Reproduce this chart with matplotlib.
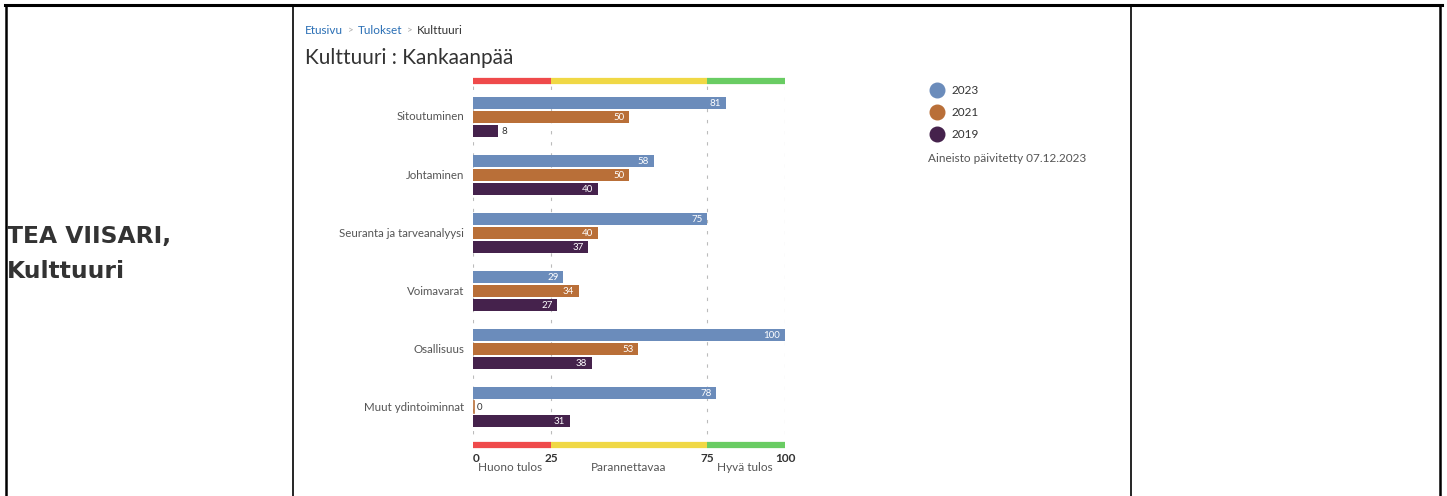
import matplotlib.pyplot as plt
from matplotlib.lines import Line2D

categories = ["Sitoutuminen", "Johtaminen", "Seuranta ja tarveanalyysi",
              "Voimavarat", "Osallisuus", "Muut ydintoiminnat"]
years = ["2023", "2021", "2019"]
v2023 = [81, 58, 75, 29, 100, 78]
v2021 = [50, 50, 40, 34, 53, 0]
v2019 = [8, 40, 37, 27, 38, 31]
zones = [(0, 25, "Huono tulos"), (25, 75, "Parannettavaa"), (75, 100, "Hyvä tulos")]
zone_colors = ["#ef4a4b", "#f0d845", "#69cc63"]
ticks = [0, 25, 75, 100]

colors = ["#6b8cbb", "#b96f38", "#45224c"]
W, H = 1447, 496
plt.rcParams['font.family'] = ['Lato', 'DejaVu Sans']
fig = plt.figure(figsize=(W / 100, H / 100), dpi=100)

# table frame of the page
frame = fig.add_axes([0, 0, 1, 1])
frame.set_xlim(0, W)
frame.set_ylim(H, 0)
frame.axis("off")
frame.add_line(Line2D([5, 1442], [5, 5], color="black", lw=2.2))
for x in [6, 293, 1131, 1440]:
    frame.add_line(Line2D([x, x], [5, H], color="black", lw=1.8 if x in (6, 1440) else 1.2))
frame.text(7, 236, "TEA VIISARI,", fontsize=16.8, fontweight="bold", color="#333333",
           fontfamily=["DejaVu Sans"], va="center")
frame.text(7, 271, "Kulttuuri", fontsize=16.8, fontweight="bold", color="#333333",
           fontfamily=["DejaVu Sans"], va="center")

# breadcrumb + title
frame.text(305, 31, "Etusivu", fontsize=8.5, color="#2a6fb5", va="center")
frame.text(348, 31, ">", fontsize=7, color="#aaaaaa", va="center")
frame.text(358, 31, "Tulokset", fontsize=8.5, color="#2a6fb5", va="center")
frame.text(407, 31, ">", fontsize=7, color="#aaaaaa", va="center")
frame.text(417, 31, "Kulttuuri", fontsize=8.5, color="#333333", va="center")
frame.text(305, 58, "Kulttuuri : Kankaanpää", fontsize=15, color="#333333", va="center")

# legend
for i, (yr, c) in enumerate(zip(years, colors)):
    y = 90 + 22 * i
    frame.plot([937], [y], marker="o", ms=10.5, color=c, mec=c)
    frame.text(951, y + 1, yr, fontsize=8.5, color="#333333", va="center")
frame.text(928, 158, "Aineisto päivitetty 07.12.2023", fontsize=8.5, color="#555555", va="center")

# chart
x0, x1, ytop, ybot = 473, 785, 81, 445
ax = fig.add_axes([x0 / W, 1 - ybot / H, (x1 - x0) / W, (ybot - ytop) / H])
ax.set_xlim(0, 100)
ax.set_ylim(5.65, -0.62)
ax.axis("off")

for t in ticks:
    ax.axvline(t, color="#bbbbbb", lw=0.8, ls=(0, (3, 7)), zorder=0)

bh = 0.205
offs = [-0.241, 0.0, 0.241]
for vals, c, off in zip([v2023, v2021, v2019], colors, offs):
    for i, v in enumerate(vals):
        y = i + off
        ax.barh(y, v, height=bh, color=c, zorder=2)
        if v >= 15:
            ax.text(v - 1.5, y + 0.01, str(v), color="white", fontsize=7, ha="right", va="center", zorder=3)
        else:
            ax.text(v + 1.2, y + 0.01, str(v), color="#333333", fontsize=7, ha="left", va="center", zorder=3)
        if v == 0:
            ax.plot([0.3, 0.3], [y - bh / 2, y + bh / 2], color=c, lw=1.2, zorder=2)

tr = ax.get_xaxis_transform()
for (a, b, name), zc in zip(zones, zone_colors):
    for yy in (1.0, 0.0):
        ax.plot([a, b], [yy, yy], color=zc, lw=4.5, transform=tr, clip_on=False, solid_capstyle="butt")

ax.set_yticks([])
for i, cat in enumerate(categories):
    ax.text(-2.8, i, cat, fontsize=8.3, color="#555555", ha="right", va="center")

for t in ticks:
    ax.text(t + (1 if t == 0 else 0), -0.038, str(t), fontsize=8.5, color="#333333",
            fontweight="bold", ha="center", va="center", transform=tr)
label_x = [12, 50, 87]
for (a, b, name), lx in zip(zones, label_x):
    ax.text(lx, -0.062, name, fontsize=8.5, color="#555555", ha="center", va="center", transform=tr)

fig.savefig("out.png", dpi=100)
